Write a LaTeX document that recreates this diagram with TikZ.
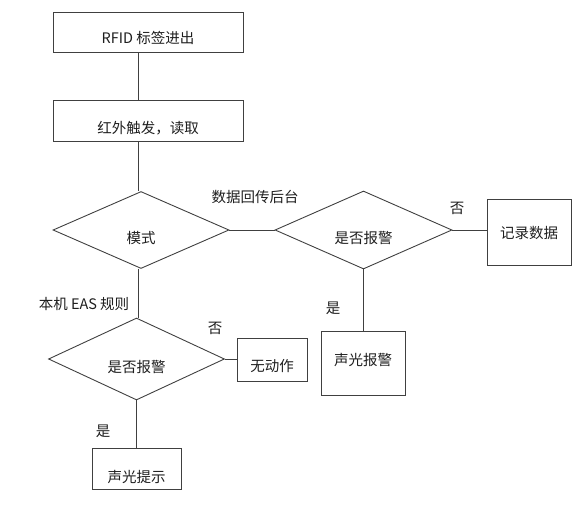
\documentclass[tikz,border=0pt]{standalone}
\usepackage{fontspec}
\setmainfont{Noto Sans CJK SC}
\usetikzlibrary{shapes.geometric}
\definecolor{Ink}{HTML}{1E1E1E}
\definecolor{Edge}{HTML}{404040}

\begin{document}
\begin{tikzpicture}[
  x=1pt,y=-1pt,
  font=\fontsize{14.5}{17}\selectfont,
  stepbox/.style={draw=Edge,line width=0.9pt,inner sep=0pt,align=center,text=Ink},
  choice/.style={diamond,draw=Edge,line width=0.9pt,inner sep=0pt,aspect=2.2,text height=26pt,text depth=0pt,text=Ink},
  note/.style={inner sep=0pt,text=Ink},
  link/.style={draw=Edge,line width=0.9pt}
]
\useasboundingbox (0,0) rectangle (584,516);
\coordinate (spine) at (138,0);
\node[stepbox,minimum width=190pt,text height=32pt,text depth=8pt] (start) at (148,32) {RFID 标签进出};
\node[stepbox,minimum width=190pt,text height=34pt,text depth=7pt] (trigger) at (148,120.5) {红外触发，读取};
\node[choice,minimum width=176pt,minimum height=77pt] (mode) at (141,230) {模式};
\node[choice,minimum width=177pt,minimum height=78pt] (check) at (363.5,230) {是否报警};
\node[stepbox,minimum width=84pt,text height=39pt,text depth=27pt] (record) at (529,232) {记录数据};
\node[stepbox,minimum width=84pt,text height=34pt,text depth=30pt] (alarm) at (363,363) {声光报警};
\node[choice,minimum width=176pt,minimum height=82pt] (local) at (136.5,359) {是否报警};
\node[stepbox,minimum width=70pt,text height=33pt,text depth=10pt] (none) at (272,359.5) {无动作};
\node[stepbox,minimum width=89pt,text height=34pt,text depth=7pt] (prompt) at (136.5,468.5) {声光提示};
% branch labels
\node[note] (backend) at (255,197) {数据回传后台};
\node[note] (no1) at (457,208) {否};
\node[note] (yes1) at (333,308) {是};
\node[note] (eas) at (84,304) {本机 EAS 规则};
\node[note] (no2) at (215,328) {否};
\node[note] (yes2) at (103,431) {是};
\draw[link] (spine |- start.south) -- (spine |- trigger.north);
\draw[link] (spine |- trigger.south) -- (spine |- mode.north);
\draw[link] (mode.east) -- (check.west);
\draw[link] (check.east) -- (check.east -| record.west);
\draw[link] (check.south) -- (check.south |- alarm.north);
\draw[link] (spine |- mode.south) -- (spine |- local.north);
\draw[link] (local.east) -- (local.east -| none.west);
\draw[link] (local.south) -- (local.south |- prompt.north);
\end{tikzpicture}
\end{document}
